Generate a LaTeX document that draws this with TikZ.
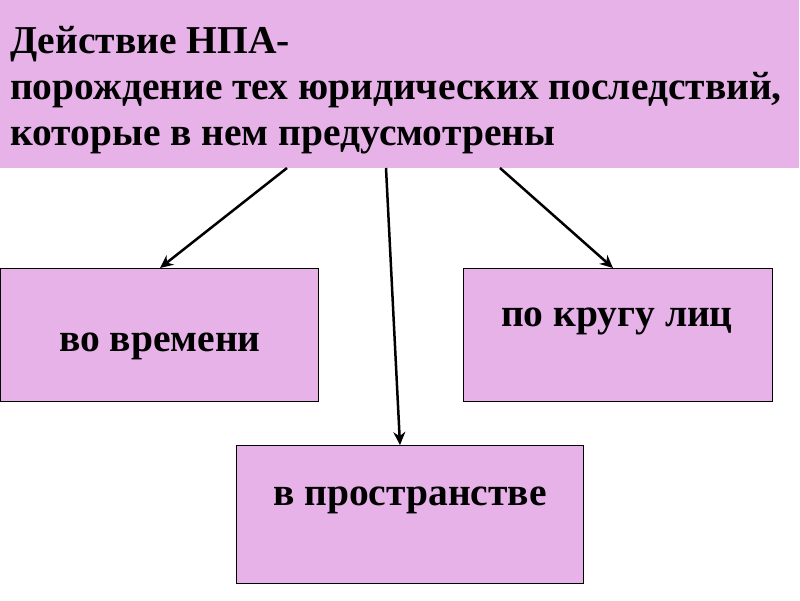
\documentclass[tikz,border=0pt]{standalone}
\usepackage{fontspec}
\setmainfont{Liberation Serif}
\usetikzlibrary{arrows.meta}
\definecolor{pinkfill}{HTML}{E6B2E8}
\tikzset{
  box/.style={draw=black, line width=1pt, fill=pinkfill, anchor=north west, inner sep=0pt},
  lbl/.style={font=\bfseries\fontsize{39.5}{46}\selectfont, text=black, inner sep=0pt, anchor=base},
  ttl/.style={lbl, anchor=base west},
  arr/.style={line width=2.5pt, -{Stealth[length=13pt,width=12pt]}}
}
\begin{document}
\begin{tikzpicture}[x=1pt,y=-1pt]
\useasboundingbox (0,0) rectangle (800,600);
\fill[white] (0,0) rectangle (800,600);
% title
\node[fill=pinkfill, anchor=north west, minimum width=799pt, minimum height=168pt, inner sep=0pt] (title) at (0,0) {};
\node[ttl] (t1) at (10,53) {Действие НПА-};
\node[ttl] (t2) at (10,99) {порождение тех юридических последствий,};
\node[ttl] (t3) at (10,145) {которые в нем предусмотрены};
% boxes
\node[box, minimum width=318pt, minimum height=133pt] (left) at (0,268) {};
\node[lbl] (lt) at (160,351) {во времени};
\node[box, minimum width=309pt, minimum height=133pt] (right) at (463,268) {};
\node[lbl] (rt) at (617,326) {по кругу лиц};
\node[box, minimum width=347pt, minimum height=138pt] (bottom) at (236,445) {};
\node[lbl] (bt) at (410,505) {в пространстве};
% arrows
\coordinate (s1) at (287,168);
\coordinate (s2) at (386,168);
\coordinate (s3) at (500,168);
\draw[arr] (s1) -- ([xshift=160pt]left.north west);
\draw[arr] (s2) -- ([xshift=164pt]bottom.north west);
\draw[arr] (s3) -- ([xshift=150pt]right.north west);
\end{tikzpicture}
\end{document}
